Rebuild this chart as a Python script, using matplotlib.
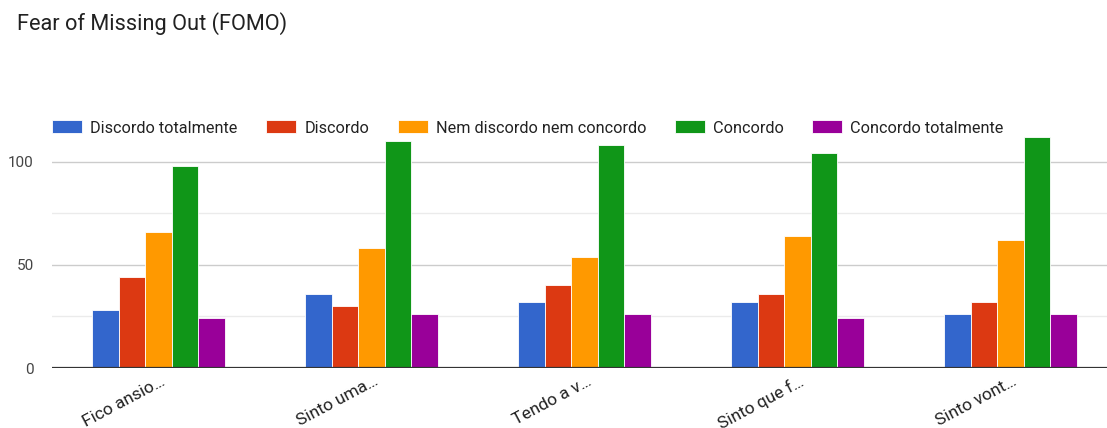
import matplotlib
matplotlib.use('Agg')
import matplotlib.pyplot as plt
import matplotlib.transforms as mtransforms
import numpy as np

plt.rcParams['font.family'] = ['Roboto', 'DejaVu Sans']

# Google Forms summary: FOMO statements, answers per Likert level
statements = ['Fico ansio…', 'Sinto uma…', 'Tendo a v…', 'Sinto que f…', 'Sinto vont…']
levels = ['Discordo totalmente', 'Discordo', 'Nem discordo nem concordo',
          'Concordo', 'Concordo totalmente']
discordo_totalmente = [28, 36, 32, 32, 26]
discordo = [44, 30, 40, 36, 32]
neutro = [66, 58, 54, 64, 62]
concordo = [98, 110, 108, 104, 112]
concordo_totalmente = [24, 26, 26, 24, 26]
series = [discordo_totalmente, discordo, neutro, concordo, concordo_totalmente]
colors = ['#3366cc', '#dc3912', '#ff9900', '#109618', '#990099']

W, H = 1107, 428
fig = plt.figure(figsize=(W / 100, H / 100), dpi=100)
ax = fig.add_axes([52 / W, (H - 368) / H, (W - 52) / W, (368 - 110) / H])

x = np.arange(len(statements))
bw = 0.124
for i, (vals, c, lab) in enumerate(zip(series, colors, levels)):
    ax.bar(x + (i - 2) * bw, vals, width=bw, color=c, label=lab,
           edgecolor='white', linewidth=0.6, zorder=3)

band = 213
ax.set_xlim(-0.5, -0.5 + (W - 52) / band)
ax.set_ylim(0, 125)
ax.set_yticks([0, 50, 100])
ax.set_yticks([25, 75], minor=True)
ax.grid(axis='y', which='major', color='#cccccc', linewidth=1, zorder=0)
ax.grid(axis='y', which='minor', color='#ebebeb', linewidth=1, zorder=0)
ax.axhline(0, color='#333333', linewidth=1.6, zorder=4)
for s in ax.spines.values():
    s.set_visible(False)
ax.tick_params(axis='both', which='both', length=0)
ax.tick_params(axis='y', labelsize=11, labelcolor='#444444', pad=13)
ax.set_xticks(x)
ax.set_xticklabels(statements, rotation=28, ha='right', rotation_mode='anchor',
                   fontsize=12.5, color='#222222')
ax.tick_params(axis='x', pad=4)
# nudge the slanted labels so they end just right of each group centre
shift = mtransforms.ScaledTranslation(2 / 100, 0, fig.dpi_scale_trans)
for lbl in ax.get_xticklabels():
    lbl.set_transform(lbl.get_transform() + shift)

ax.legend(loc='center left', bbox_to_anchor=(52 / W, 1 - 128 / H),
          bbox_transform=fig.transFigure, ncol=5, frameon=False,
          fontsize=11.7, handlelength=1.85, handleheight=0.85, handletextpad=0.5,
          columnspacing=1.75, borderaxespad=0, borderpad=0, labelcolor='#222222')

fig.text(17 / W, 1 - 24 / H, 'Fear of Missing Out (FOMO)', fontsize=15.7,
         color='#212121', va='center', ha='left')

fig.savefig('out.png', dpi=100)
